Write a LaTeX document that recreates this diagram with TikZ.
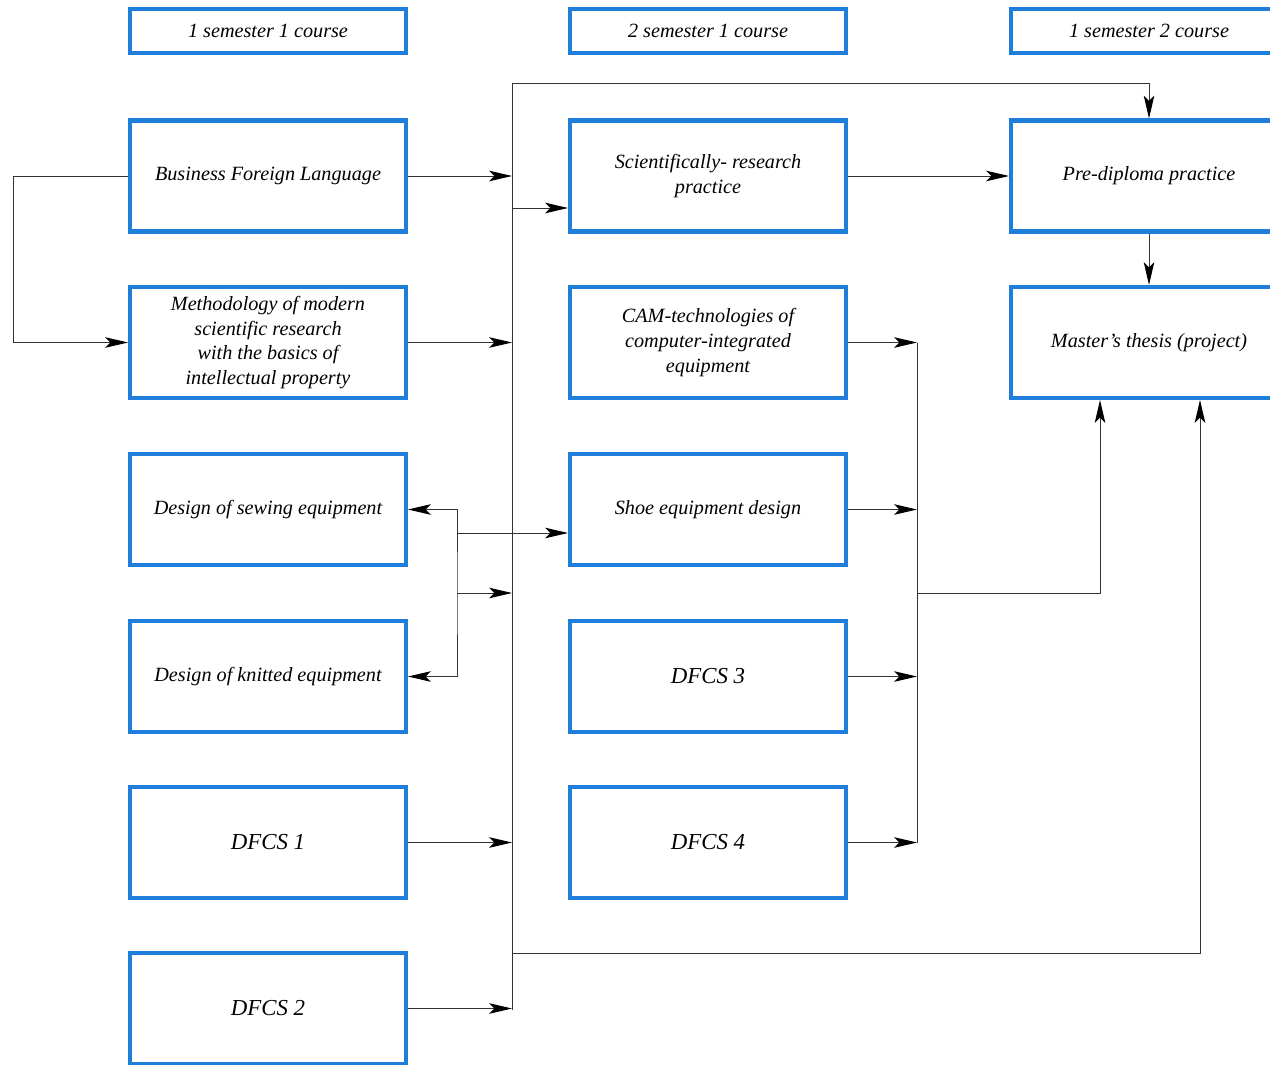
\documentclass[tikz,border=0pt]{standalone}
\usepackage{fontspec}
\setmainfont{Liberation Serif}
\usetikzlibrary{arrows.meta}

\definecolor{boxblue}{RGB}{30,126,218}

\begin{document}
\begin{tikzpicture}[x=0.02cm,y=-0.02cm,
        course/.style={draw=boxblue,line width=2.3pt,minimum width=5.52cm,minimum height=2.22cm,
            align=center,font=\fontsize{11.5}{14}\selectfont\itshape,inner sep=2pt},
        dfcs/.style={course,font=\fontsize{13}{15}\selectfont\itshape},
        term/.style={course,minimum height=0.88cm},
        link/.style={line width=0.55pt,draw=black!80},
        arr/.style={link,-{Stealth[length=13pt,width=6pt,inset=3pt,black]}},
        arrs/.style={link,{Stealth[length=13pt,width=6pt,inset=3pt,black]}-{Stealth[length=13pt,width=6pt,inset=3pt,black]}}]
        \useasboundingbox (0,0) rectangle (1270,1064);

        % Terms
        \node[term] (t1) at (268,31) {1 semester 1 course};
        \node[term] (t2) at (708,31) {2 semester 1 course};
        \node[term] (t3) at (1149,31) {1 semester 2 course};

        % First column
        \node[course] (lang)    at (268,176)    {Business Foreign Language};
        \node[course] (method)  at (268,342.5)  {Methodology of modern\\scientific research\\with the basics of\\intellectual property};
        \node[course] (sewing)  at (268,509.5)  {Design of sewing equipment};
        \node[course] (knitted) at (268,676.5)  {Design of knitted equipment};
        \node[dfcs]   (dfcs1)   at (268,842.5)  {DFCS 1};
        \node[dfcs]   (dfcs2)   at (268,1008.5) {DFCS 2};

        % Second column
        \node[course] (sci)   at (708,176)   {Scientifically- research\\practice};
        \node[course] (cam)   at (708,342.5) {CAM-technologies of\\computer-integrated\\equipment};
        \node[course] (shoe)  at (708,509.5) {Shoe equipment design};
        \node[dfcs]   (dfcs3) at (708,676.5) {DFCS 3};
        \node[dfcs]   (dfcs4) at (708,842.5) {DFCS 4};

        % Third column
        \node[course] (prediploma) at (1149,176)   {Pre-diploma practice};
        \node[course] (thesis)     at (1149,342.5) {Master's thesis (project)};

        % Bus lines
        \coordinate (b1top) at (512,83);
        \coordinate (b1bot) at (512,1010);
        \coordinate (b1sci) at (512,208);
        \coordinate (b1end) at (512,953);
        \coordinate (b2top) at (917,343);
        \coordinate (b2bot) at (917,843);
        \coordinate (b2mid) at (917,593);
        \coordinate (elec)  at (457,593);
        \coordinate (elshoe) at (457,533);

        \draw[link] (b1top) -- (b1bot);
        \draw[link] (b2top) -- (b2bot);

        % First column into the bus
        \draw[arr] (lang.west) -- ++(-115,0) |- (method.west);
        \draw[arr] (lang.east) -- (lang.east -| b1top);
        \draw[arr] (method.east) -- (method.east -| b1top);
        \draw[arr] (dfcs1.east) -- (dfcs1.east -| b1top);
        \draw[arr] (dfcs2.east) -- (dfcs2.east -| b1top);

        % Elective pair
        \draw[arrs] (sewing.east) -| (elec) |- (knitted.east);
        \draw[arr] (elec) -- (elec -| b1top);
        \draw[arr] (elshoe) -- (elshoe -| shoe.west);

        % Bus to the second and third columns
        \draw[arr] (b1sci) -- (b1sci -| sci.west);
        \draw[arr] (b1top) -| (prediploma.north);
        \draw[arr] (b1end) -| ([xshift=1.02cm]thesis.south);

        % Second column into the second bus
        \draw[arr] (cam.east) -- (cam.east -| b2top);
        \draw[arr] (shoe.east) -- (shoe.east -| b2top);
        \draw[arr] (dfcs3.east) -- (dfcs3.east -| b2top);
        \draw[arr] (dfcs4.east) -- (dfcs4.east -| b2top);
        \draw[arr] (b2mid) -| ([xshift=-0.98cm]thesis.south);

        % Practice and thesis
        \draw[arr] (sci) -- (prediploma);
        \draw[arr] (prediploma) -- (thesis);
\end{tikzpicture}
\end{document}
